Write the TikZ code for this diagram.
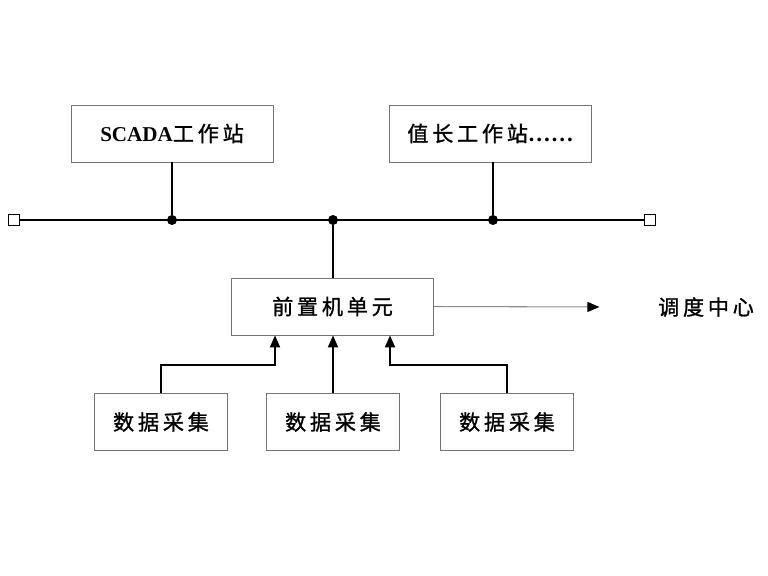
\documentclass[tikz,border=0pt]{standalone}
\usepackage{fontspec}
\setmainfont{Liberation Serif}
\newfontfamily\cjk[LetterSpace=18,FakeBold=1.2]{Noto Sans CJK SC}
\usetikzlibrary{arrows.meta,positioning}

\begin{document}
\begin{tikzpicture}[
          >={Triangle[length=2.4mm,width=2mm]}, font=\cjk\fontsize{12pt}{14pt}\selectfont,
          station/.style={rectangle, draw=black!55, line width=0.5pt,
              minimum width=4.04cm, minimum height=1.14cm, align=center},
          acq/.style={rectangle, draw=black!55, line width=0.5pt,
              minimum width=2.66cm, minimum height=1.14cm, align=center},
          term/.style={rectangle, draw, fill=white, line width=0.8pt,
              minimum size=0.22cm, inner sep=0pt},
          tap/.style={circle, fill, minimum size=0.2cm, inner sep=0pt},
          bus/.style={line width=1.1pt},
          arr/.style={->, line width=1.1pt},
          garr/.style={-{Triangle[length=2.4mm,width=2mm,color=black]}, draw=black!45, line width=0.6pt}
      ]
      \useasboundingbox (0,0) rectangle (15.36,11.52);
      % stations on the bus
      \node[station] (scada) at (3.44, 8.85) {{\rmfamily\bfseries SCADA}工作站};
      \node[station] (duty)  at (9.81, 8.85) {值长工作站{\rmfamily\bfseries\fontsize{13pt}{14pt}\selectfont ……}};
      \node[term] (busl) at (0.28, 7.12) {};
      \node[term] (busr) at (13.0, 7.12) {};
      \node[tap] (tscada) at (3.44, 7.12) {};
      \node[tap] (tfep)   at (6.66, 7.12) {};
      \node[tap] (tduty)  at (9.86, 7.12) {};
      \draw[bus] (busl) -- (busr);
      \draw[bus] (scada.south) -- (tscada);
      \draw[bus] (duty.south -| tduty) -- (tduty);
      % front-end unit
      \node[station] (fep) at (6.65, 5.39) {前置机单元};
      \node (center) at (14.12, 5.38) {调度中心};
      \draw[bus] (tfep) -- (fep.north -| tfep);
      \draw[garr] (fep.east) -- ([xshift=-1.05cm]center.west);
      % acquisition units
      \node[acq] (acq1) at (3.22, 3.08) {数据采集};
      \node[acq] (acq2) at (6.66, 3.08) {数据采集};
      \node[acq] (acq3) at (10.14, 3.08) {数据采集};
      \draw[arr] (acq1.north) -- ++(0,0.56) -| ([xshift=-1.15cm]fep.south);
      \draw[arr] (acq2.north) -- (fep.south -| acq2.north);
      \draw[arr] (acq3.north) -- ++(0,0.56) -| ([xshift=1.15cm]fep.south);
\end{tikzpicture}
\end{document}
